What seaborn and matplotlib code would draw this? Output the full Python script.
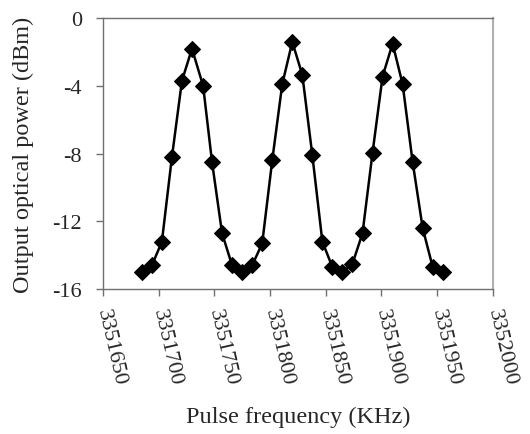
import pandas as pd
import seaborn as sns
import matplotlib.pyplot as plt

sns.set_style("white")
plt.rcParams['font.family'] = ['Liberation Serif', 'DejaVu Serif']

# 读图得到的数据点
freq_khz = [3351685, 3351694, 3351703, 3351712, 3351721, 3351730, 3351740,
            3351748, 3351757, 3351766, 3351775, 3351784, 3351793, 3351802,
            3351811, 3351820, 3351829, 3351838, 3351847, 3351856, 3351865,
            3351874, 3351883, 3351892, 3351901, 3351910, 3351919, 3351928,
            3351937, 3351946, 3351955]
power_dbm = [-15.0, -14.6, -13.2, -8.2, -3.7, -1.8, -4.0,
             -8.5, -12.7, -14.6, -15.0, -14.6, -13.3, -8.4,
             -3.9, -1.4, -3.35, -8.1, -13.2, -14.7, -15.0,
             -14.5, -12.7, -7.95, -3.45, -1.5, -3.9, -8.5,
             -12.4, -14.7, -15.0]
x_ticks = [3351650, 3351700, 3351750, 3351800, 3351850, 3351900, 3351950, 3352000]
y_ticks = [0, -4, -8, -12, -16]

df = pd.DataFrame({"freq": freq_khz, "power": power_dbm})

fig = plt.figure(figsize=(5.3, 4.35), dpi=100)
ax = fig.add_axes([0.194, 0.333, 0.736, 0.623])

sns.lineplot(data=df, x="freq", y="power", ax=ax, color="black", linewidth=1.8,
             marker="D", markersize=8, markeredgecolor="black", markerfacecolor="black")

ax.set_xlim(3351650, 3352000)
ax.set_ylim(-16, 0)
ax.set_xticks(x_ticks)
ax.set_xticklabels([str(v) for v in x_ticks], rotation=-77, ha='left', va='center',
                   rotation_mode='anchor', fontsize=16)
ax.set_yticks(y_ticks)
ax.set_yticklabels([str(v) for v in y_ticks], fontsize=16)
ax.tick_params(axis='both', direction='out', length=5, width=1, color='#707070',
               bottom=True, left=True)
ax.tick_params(axis='x', pad=9)
ax.tick_params(axis='y', pad=10)

for side in ['left', 'bottom', 'top']:
    ax.spines[side].set_color('#707070')
    ax.spines[side].set_linewidth(1.0)
ax.spines['right'].set_color('#b0b0b0')
ax.spines['right'].set_linewidth(1.5)

ax.set_xlabel("Pulse frequency (KHz)", fontsize=17.5, labelpad=14)
ax.set_ylabel("Output optical power (dBm)", fontsize=17.5, labelpad=13)

fig.savefig("out.png", dpi=100)
